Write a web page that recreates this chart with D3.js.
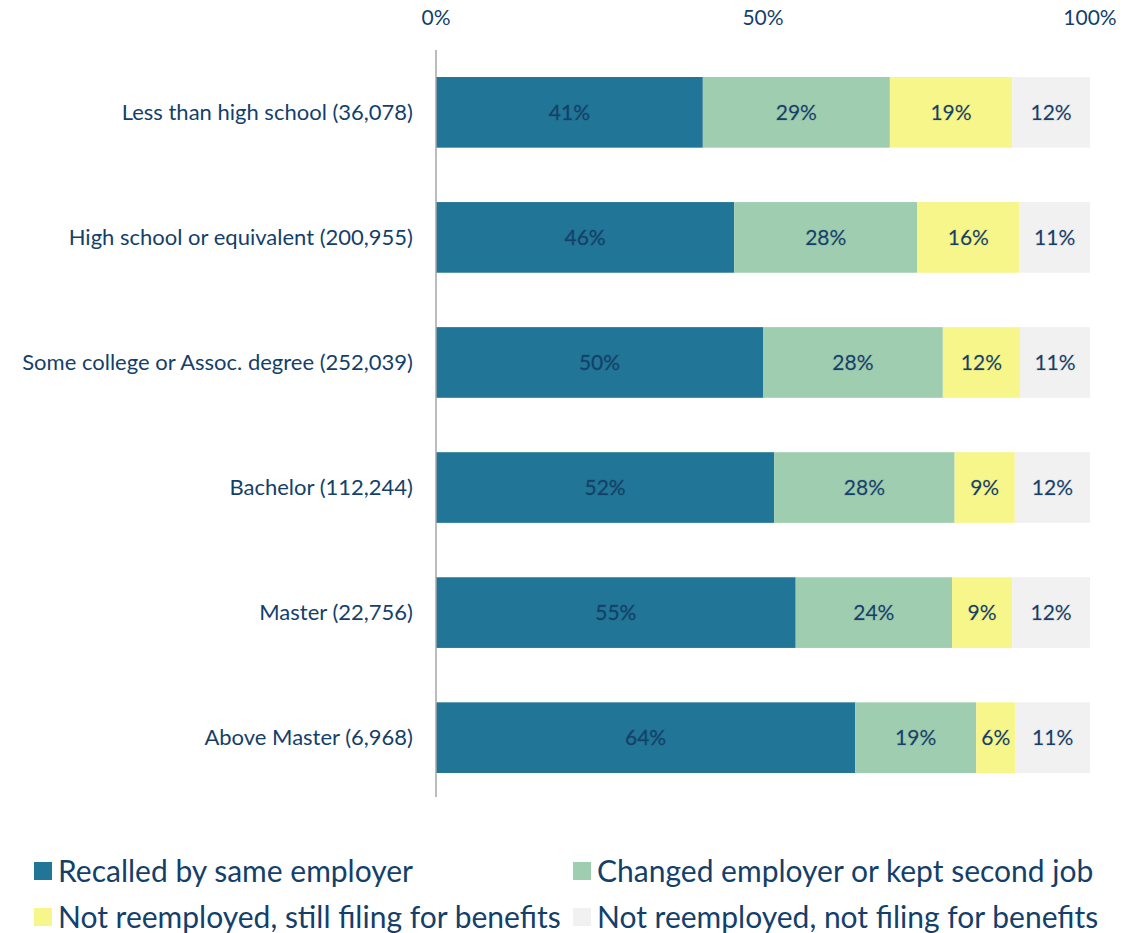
<!DOCTYPE html>
<html>
<head>
<meta charset="utf-8">
<script src="https://cdn.jsdelivr.net/npm/d3@7"></script>
<style>
  body { margin: 0; background: #fff; }
  svg text { font-family: Lato, "Open Sans", sans-serif; fill: #143f6b; }
</style>
</head>
<body>
<svg id="chart" width="1142" height="933"></svg>
<script>
const categories = [
  "Less than high school (36,078)",
  "High school or equivalent (200,955)",
  "Some college or Assoc. degree (252,039)",
  "Bachelor (112,244)",
  "Master (22,756)",
  "Above Master (6,968)"
];
const seriesNames = [
  "Recalled by same employer",
  "Changed employer or kept second job",
  "Not reemployed, still filing for benefits",
  "Not reemployed, not filing for benefits"
];
// shares in percent
const recalled = [40.8, 45.6, 50.0, 51.7, 55.0, 64.1];
const changed = [28.6, 28.0, 27.5, 27.6, 23.9, 18.5];
const stillFiling = [18.7, 15.6, 11.8, 9.2, 9.2, 6.0];
const notFiling = [11.9, 10.8, 10.7, 11.5, 11.9, 11.4];
const ticks = [0, 50, 100];
const colors = ["#217596", "#9ecdb0", "#f7f68a", "#f1f1f1"];

const rows = categories.map((c, i) => ({
  name: c,
  s0: recalled[i], s1: changed[i], s2: stillFiling[i], s3: notFiling[i]
}));
const keys = ["s0", "s1", "s2", "s3"];

const svg = d3.select("#chart");
const margin = { top: 50, left: 436, right: 52, bottom: 136 };
const width = 1142 - margin.left - margin.right;

const x = d3.scaleLinear().domain([0, 100]).range([margin.left, margin.left + width]);
const y = d3.scaleBand().domain(categories).range([52, 798]).paddingInner(0.435).paddingOuter(0.2);

const stack = d3.stack().keys(keys);
const layers = stack(rows);

const g = svg.append("g");
g.selectAll("g.layer")
  .data(layers)
  .join("g")
  .attr("class", "layer")
  .attr("fill", (d, i) => colors[i])
  .selectAll("rect")
  .data((d) => d)
  .join("rect")
  .attr("x", (d) => x(d[0]))
  .attr("y", (d) => y(d.data.name))
  .attr("width", (d) => x(d[1]) - x(d[0]))
  .attr("height", y.bandwidth());

// value labels
g.selectAll("g.lbl")
  .data(layers)
  .join("g")
  .attr("class", "lbl")
  .selectAll("text")
  .data((d) => d.map((p) => ({ p, key: d.key })))
  .join("text")
  .attr("x", (d) => (x(d.p[0]) + x(d.p[1])) / 2)
  .attr("y", (d) => y(d.p.data.name) + y.bandwidth() / 2)
  .attr("dy", "0.35em")
  .attr("text-anchor", "middle")
  .style("font-size", "21px")
  .style("paint-order", "stroke")
  .style("stroke", "rgba(0,0,0,0.06)")
  .style("stroke-width", "2px")
  .text((d) => Math.round(d.p.data[d.key]) + "%");

// vertical axis line
svg.append("line")
  .attr("x1", x(0)).attr("x2", x(0))
  .attr("y1", 50).attr("y2", 797)
  .attr("stroke", "#a6a6a6")
  .attr("stroke-width", 1.5);

// top tick labels
svg.append("g")
  .selectAll("text")
  .data(ticks)
  .join("text")
  .attr("x", (d) => x(d))
  .attr("y", 25)
  .attr("text-anchor", "middle")
  .style("font-size", "21px")
  .text((d) => d + "%");

// category labels
svg.append("g")
  .selectAll("text")
  .data(categories)
  .join("text")
  .attr("x", 413)
  .attr("y", (d) => y(d) + y.bandwidth() / 2)
  .attr("dy", "0.35em")
  .attr("text-anchor", "end")
  .style("font-size", "22px")
  .text((d) => d);

// legend
const legendPos = [
  { x: 34, y: 871 }, { x: 573, y: 871 },
  { x: 34, y: 917 }, { x: 573, y: 917 }
];
const leg = svg.append("g")
  .selectAll("g")
  .data(seriesNames)
  .join("g")
  .attr("transform", (d, i) => `translate(${legendPos[i].x},${legendPos[i].y})`);
leg.append("rect")
  .attr("x", 0).attr("y", -9)
  .attr("width", 18).attr("height", 18)
  .attr("fill", (d, i) => colors[i]);
leg.append("text")
  .attr("x", 24)
  .attr("dy", "0.35em")
  .style("font-size", "30px")
  .text((d) => d);
</script>
</body>
</html>
